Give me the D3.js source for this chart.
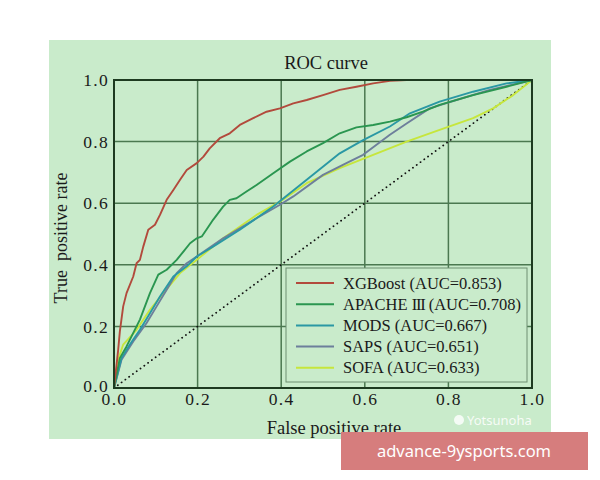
<!DOCTYPE html>
<html><head><meta charset="utf-8">
<script src="https://cdn.jsdelivr.net/npm/d3@7"></script>
<style>body{margin:0;background:#fff}svg{display:block}</style>
</head><body>
<script>
const seriesNames = ["XGBoost (AUC=0.853)","APACHE III (AUC=0.708)","MODS (AUC=0.667)","SAPS (AUC=0.651)","SOFA (AUC=0.633)"];
const seriesColors = ["#b24a3c","#2a9650","#2a98a4","#6d7f9b","#c6e63c"];
const tickValues = [0,0.2,0.4,0.6,0.8,1.0];
const xgboost = [[0,0],[0.010,0.124],[0.014,0.184],[0.022,0.265],[0.030,0.308],[0.046,0.362],[0.054,0.405],[0.062,0.416],[0.070,0.459],[0.082,0.514],[0.098,0.530],[0.110,0.562],[0.126,0.611],[0.142,0.643],[0.158,0.676],[0.174,0.708],[0.198,0.730],[0.214,0.751],[0.229,0.778],[0.253,0.811],[0.277,0.827],[0.301,0.854],[0.333,0.876],[0.365,0.897],[0.397,0.908],[0.429,0.924],[0.461,0.935],[0.500,0.951],[0.540,0.968],[0.580,0.978],[0.620,0.989],[0.660,0.997],[0.700,1.0],[1,1]];
const apache = [[0,0],[0.014,0.097],[0.030,0.135],[0.062,0.222],[0.086,0.308],[0.106,0.368],[0.126,0.384],[0.150,0.416],[0.166,0.443],[0.182,0.470],[0.198,0.486],[0.210,0.492],[0.221,0.514],[0.237,0.546],[0.261,0.589],[0.277,0.611],[0.293,0.616],[0.317,0.638],[0.341,0.659],[0.381,0.697],[0.421,0.735],[0.461,0.768],[0.500,0.795],[0.540,0.827],[0.580,0.846],[0.620,0.854],[0.660,0.865],[0.700,0.879],[0.739,0.897],[0.779,0.919],[0.859,0.951],[0.939,0.978],[1,1]];
const mods = [[0,0],[0.018,0.097],[0.038,0.141],[0.062,0.189],[0.086,0.243],[0.110,0.297],[0.142,0.362],[0.174,0.395],[0.198,0.427],[0.237,0.459],[0.301,0.514],[0.381,0.589],[0.461,0.676],[0.540,0.762],[0.596,0.805],[0.660,0.849],[0.708,0.892],[0.779,0.930],[0.859,0.962],[0.939,0.989],[1,1]];
const saps = [[0,0],[0.018,0.092],[0.046,0.151],[0.078,0.211],[0.102,0.265],[0.126,0.319],[0.150,0.373],[0.174,0.405],[0.198,0.427],[0.261,0.486],[0.341,0.551],[0.397,0.595],[0.429,0.622],[0.500,0.692],[0.556,0.730],[0.596,0.757],[0.660,0.822],[0.700,0.859],[0.755,0.908],[0.819,0.935],[0.899,0.968],[1,1]];
const sofa = [[0,0],[0.010,0.092],[0.022,0.141],[0.054,0.189],[0.086,0.254],[0.118,0.308],[0.158,0.373],[0.198,0.416],[0.261,0.486],[0.341,0.562],[0.397,0.605],[0.461,0.665],[0.540,0.714],[0.620,0.757],[0.700,0.800],[0.779,0.838],[0.859,0.876],[0.907,0.908],[0.955,0.951],[1,1]];
const diagonal = [[0,0],[1,1]];
const allSeries = [xgboost, apache, mods, saps, sofa];

const W=600,H=480;
const svg=d3.select("body").append("svg").attr("width",W).attr("height",H);
const serif="'Liberation Serif','Times New Roman',serif";
const ink="#1a1a1a";
svg.append("rect").attr("x",49).attr("y",40).attr("width",502).attr("height",399).attr("fill","#c9ebcb");

const x=d3.scaleLinear().domain([0,1]).range([114,532]);
const y=d3.scaleLinear().domain([0,1]).range([388,80]);

// grid
const g=svg.append("g");
g.selectAll("line.vx").data(tickValues.slice(1,-1)).join("line")
 .attr("x1",d=>x(d)).attr("x2",d=>x(d)).attr("y1",y(0)).attr("y2",y(1))
 .attr("stroke","#4b7850").attr("stroke-width",1.5);
g.selectAll("line.hy").data(tickValues.slice(1,-1)).join("line")
 .attr("y1",d=>y(d)).attr("y2",d=>y(d)).attr("x1",x(0)).attr("x2",x(1))
 .attr("stroke","#4b7850").attr("stroke-width",1.5);

// diagonal
const line=d3.line().x(d=>x(d[0])).y(d=>y(d[1]));
svg.append("path").datum(diagonal).attr("d",line).attr("fill","none")
 .attr("stroke","#111").attr("stroke-width",1.8).attr("stroke-dasharray","0.1,4.6").attr("stroke-linecap","round");

// curves
allSeries.slice().reverse().forEach((s,i)=>{
  const idx=allSeries.length-1-i;
  svg.append("path").datum(s).attr("d",line).attr("fill","none")
   .attr("stroke",seriesColors[idx]).attr("stroke-width",1.9).attr("stroke-linejoin","round");
});

// frame
svg.append("rect").attr("x",x(0)).attr("y",y(1)).attr("width",x(1)-x(0)).attr("height",y(0)-y(1))
 .attr("fill","none").attr("stroke","#1d3a20").attr("stroke-width",2);

// axes
const fmt=d3.format(".1f");
const xa=svg.append("g").attr("transform",`translate(0,${y(0)})`)
 .call(d3.axisBottom(x).tickValues(tickValues).tickFormat(fmt).tickSize(0).tickPadding(5));
const ya=svg.append("g").attr("transform",`translate(${x(0)},0)`)
 .call(d3.axisLeft(y).tickValues(tickValues).tickFormat(fmt).tickSize(0).tickPadding(5));
[xa,ya].forEach(a=>{a.select(".domain").remove();a.selectAll("text").attr("font-family",serif).attr("font-size",17.5).attr("letter-spacing","1.3px").attr("fill",ink);});
ya.selectAll(".tick text").filter(d=>d===0).attr("dy","0.2em");

// titles
svg.append("text").attr("x",326).attr("y",69).attr("text-anchor","middle").attr("font-family",serif).attr("font-size",18.5).attr("fill",ink).text("ROC curve");
svg.append("text").attr("x",334).attr("y",434).attr("text-anchor","middle").attr("font-family",serif).attr("font-size",18.5).attr("fill",ink).text("False positive rate");
svg.append("text").attr("transform","translate(67,238) rotate(-90)").attr("text-anchor","middle").attr("font-family",serif).attr("font-size",18).attr("fill",ink).attr("xml:space","preserve").style("white-space","pre").text("True  positive rate");

// legend
const lg=svg.append("g");
lg.append("rect").attr("x",286).attr("y",268).attr("width",241).attr("height",114).attr("fill","#c9ebcb").attr("stroke","#6f8f72").attr("stroke-width",1);
seriesNames.forEach((n,i)=>{
  const yy=283+i*21.2;
  lg.append("line").attr("x1",296).attr("x2",334).attr("y1",yy).attr("y2",yy).attr("stroke",seriesColors[i]).attr("stroke-width",2);
  const t=lg.append("text").attr("x",343).attr("y",yy+5.5).attr("font-family",serif).attr("font-size",16.5).attr("fill",ink);
  const m=n.match(/^(.*?)(III)(.*)$/);
  if(m){
    t.append("tspan").text(m[1]);
    t.append("tspan").attr("letter-spacing","-1.2px").text(m[2]);
    t.append("tspan").text(m[3]);
  } else t.text(n);
});

// watermark
svg.append("text").attr("x",467).attr("y",425).attr("font-family","'Noto Sans',sans-serif").attr("font-size",13).attr("fill","#ffffff").attr("opacity",0.85).text("Yotsunoha");
svg.append("circle").attr("cx",459).attr("cy",420).attr("r",5).attr("fill","#ffffff").attr("opacity",0.8);
svg.append("rect").attr("x",341).attr("y",432).attr("width",247).attr("height",38).attr("fill","#d67d7d");
svg.append("text").attr("x",464).attr("y",457).attr("text-anchor","middle").attr("font-family","'Noto Sans',sans-serif").attr("font-size",16.5).attr("fill","#ffffff").text("advance-9ysports.com");
</script>
</body></html>
